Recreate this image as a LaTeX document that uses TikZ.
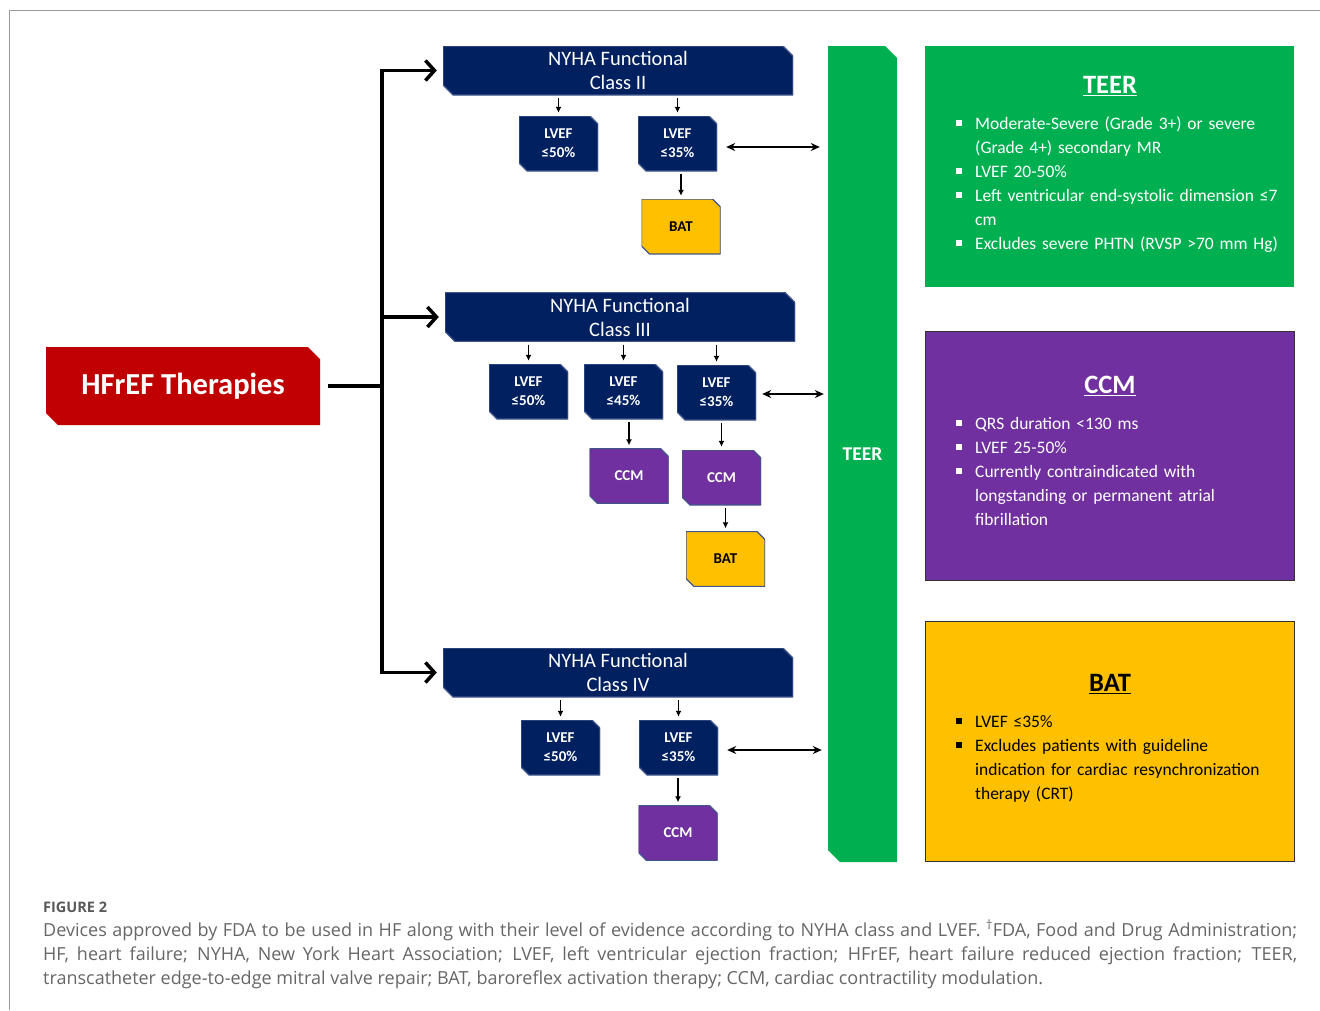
\documentclass[tikz,border=0pt]{standalone}
\usepackage{fontspec}
\setmainfont{Carlito}
\newfontfamily\capfont{Open Sans}
\usetikzlibrary{arrows, arrows.meta}
\definecolor{navy}{HTML}{002060}
\definecolor{hfred}{HTML}{C00000}
\definecolor{teergreen}{HTML}{00B050}
\definecolor{ccmpurple}{HTML}{7030A0}
\definecolor{batyellow}{HTML}{FFC000}
\definecolor{edgeblue}{HTML}{41578C}
\definecolor{capgray}{HTML}{666666}
\definecolor{labelgray}{HTML}{595959}
\definecolor{framegray}{HTML}{9A9A9A}
\newcommand\bitem[1]{\hangindent=19pt\hangafter=1\noindent\makebox[19pt][l]{\rule[3.5pt]{6pt}{6pt}}#1\par}

\begin{document}
\begin{tikzpicture}[x=1pt, y=1pt]
\tikzstyle{every node}+=[inner sep=0pt]
\tikzset{snipsize/.store in=\snipcut, snipsize=8pt}
\tikzstyle{snip}=[rectangle, fill=white, path picture={\path[#1] ([xshift=\snipcut]path picture bounding box.south west) -- (path picture bounding box.south east) -- ([yshift=-\snipcut]path picture bounding box.north east) -- ([xshift=-\snipcut]path picture bounding box.north east) -- (path picture bounding box.north west) -- ([yshift=\snipcut]path picture bounding box.south west) -- cycle;}]
\tikzstyle{classbox}=[snip={fill=navy, draw=edgeblue, line width=1.2pt}, snipsize=10pt, minimum width=350pt, minimum height=49pt, text=white, align=center, font=\fontsize{20.5}{24}\selectfont]
\tikzstyle{lvefbox}=[snip={fill=navy, draw=edgeblue, line width=1.2pt}, minimum width=79pt, minimum height=55pt, text=white, align=center, font=\bfseries\fontsize{15}{19}\selectfont]
\tikzstyle{ccmbox}=[lvefbox, snip={fill=ccmpurple, draw=edgeblue, line width=1.2pt}]
\tikzstyle{batbox}=[lvefbox, snip={fill=batyellow, draw=edgeblue, line width=1.2pt}, text=black]
\tikzstyle{infobox}=[rectangle, minimum width=369pt, line width=0.8pt]
\tikzstyle{infotitle}=[font=\bfseries\fontsize{26.5}{30}\selectfont]
\tikzstyle{infolist}=[anchor=base west, text width=335pt, align=left, font=\fontsize{17.5}{24}\selectfont]
\tikzstyle{down}=[-{Latex[length=6pt,width=6pt]}, line width=1.6pt, shorten <=3pt, shorten >=3pt]
\tikzstyle{both}=[{Stealth[length=9pt,width=8pt]}-{Stealth[length=9pt,width=8pt]}, line width=1.6pt]
\tikzstyle{trunkline}=[line width=3.5pt, {Straight Barb[length=9pt,width=20pt]}-{Straight Barb[length=9pt,width=20pt]}, shorten <=6pt, shorten >=6pt]
\useasboundingbox (0,0) rectangle (1320,-1010);
\draw [framegray, line width=1pt] (9.5,-1010) -- (9.5,-10.5) -- (1320,-10.5);
\node [snip={fill=hfred}, snipsize=12pt, minimum width=274pt, minimum height=78pt, text=white, font=\bfseries\fontsize{30.5}{32}\selectfont] (hfref) at (183,-386) {HFrEF Therapies};
\node [classbox] (nyha2) at (618,-70.5) {NYHA Functional\\Class II};
\node [classbox] (nyha3) at (620,-317) {NYHA Functional\\Class III};
\node [classbox] (nyha4) at (618,-672.5) {NYHA Functional\\Class IV};
\node [lvefbox] (lvef2a) at (558.5,-143.5) {LVEF\\≤50\%};
\node [lvefbox] (lvef2b) at (677.5,-143.5) {LVEF\\≤35\%};
\node [batbox] (bat2) at (681,-226.5) {BAT};
\node [lvefbox] (lvef3a) at (528.5,-391.5) {LVEF\\≤50\%};
\node [lvefbox] (lvef3b) at (623.5,-391.5) {LVEF\\≤45\%};
\node [lvefbox] (lvef3c) at (716.5,-392.5) {LVEF\\≤35\%};
\node [ccmbox] (ccm3b) at (629,-476) {CCM};
\node [ccmbox] (ccm3c) at (721.5,-477.5) {CCM};
\node [batbox] (bat3) at (725.5,-559) {BAT};
\node [lvefbox] (lvef4a) at (560.5,-747.5) {LVEF\\≤50\%};
\node [lvefbox] (lvef4b) at (678.5,-747.5) {LVEF\\≤35\%};
\node [ccmbox] (ccm4) at (678,-833) {CCM};
\node [snip={fill=teergreen}, snipsize=12pt, minimum width=69pt, minimum height=816pt, text=white, font=\bfseries\fontsize{19.5}{22}\selectfont] (teerbar) at (862.5,-454) {TEER};
\coordinate (trunk) at (382,-386);
\draw [line width=3.5pt, shorten <=8pt] (hfref.east) -- (trunk);
\draw [trunkline] (nyha2.west) -- (trunk |- nyha2.west) -- (trunk |- nyha4.west) -- (nyha4.west);
\draw [line width=3.5pt, -{Straight Barb[length=9pt,width=20pt]}, shorten >=6pt] (trunk |- nyha3.west) -- (nyha3.west);
\draw [down] (nyha2.south -| lvef2a) -- (lvef2a);
\draw [down] (nyha2.south -| lvef2b) -- (lvef2b);
\draw [down] (lvef2b.south -| bat2) -- (bat2);
\draw [down] (nyha3.south -| lvef3a) -- (lvef3a);
\draw [down] (nyha3.south -| lvef3b) -- (lvef3b);
\draw [down] (nyha3.south -| lvef3c) -- (lvef3c);
\draw [down] (lvef3b.south -| ccm3b) -- (ccm3b);
\draw [down] (lvef3c.south -| ccm3c) -- (ccm3c);
\draw [down] (ccm3c.south -| bat3) -- (bat3);
\draw [down] (nyha4.south -| lvef4a) -- (lvef4a);
\draw [down] (nyha4.south -| lvef4b) -- (lvef4b);
\draw [down] (lvef4b.south -| ccm4) -- (ccm4);
\draw [both, shorten <=9pt, shorten >=8pt] ([yshift=-3.5pt]lvef2b.east) -- ([yshift=-3.5pt]lvef2b.east -| teerbar.west);
\draw [both, shorten <=6pt, shorten >=4pt] ([yshift=-1.5pt]lvef3c.east) -- ([yshift=-1.5pt]lvef3c.east -| teerbar.west);
\draw [both, shorten <=9pt, shorten >=6pt] ([yshift=-2.5pt]lvef4b.east) -- ([yshift=-2.5pt]lvef4b.east -| teerbar.west);
\node [infobox, fill=teergreen, minimum height=241pt] (teerinfo) at (1109.5,-166.5) {};
\node [infobox, fill=ccmpurple, draw=black!80, minimum height=249pt] (ccminfo) at (1109.5,-455.5) {};
\node [infobox, fill=batyellow, draw=black!80, minimum height=240pt] (batinfo) at (1109.5,-741) {};
\node [infotitle, text=white] (teertitle) at (1110,-86) {\underline{TEER}};
\node [infolist, text=white] (teerlist) at (956,-129.5) {\bitem{Moderate-Severe (Grade 3+) or severe\newline(Grade 4+) secondary MR}\bitem{LVEF 20-50\%}\bitem{Left ventricular end-systolic dimension ≤7\newline cm}\bitem{Excludes severe PHTN (RVSP >70 mm Hg)}};
\node [infotitle, text=white] (ccmtitle) at (1110,-386) {\underline{CCM}};
\node [infolist, text=white] (ccmlist) at (956,-429.5) {\bitem{QRS duration <130 ms}\bitem{LVEF 25-50\%}\bitem{Currently contraindicated with\newline longstanding or permanent atrial\newline fibrillation}};
\node [infotitle, text=black] (battitle) at (1110,-684) {\underline{BAT}};
\node [infolist, text=black] (batlist) at (956,-727.5) {\bitem{LVEF ≤35\%}\bitem{Excludes patients with guideline\newline indication for cardiac resynchronization\newline therapy (CRT)}};
\node [anchor=base west, text=labelgray, font=\capfont\bfseries\fontsize{14.5}{16}\selectfont] (figlabel) at (43,-912) {FIGURE 2};
\node [anchor=base west, text=capgray, text width=1254pt, align=justify, font=\capfont\fontsize{18}{24}\selectfont] (caption) at (43,-936) {Devices approved by FDA to be used in HF along with their level of evidence according to NYHA class and LVEF. \textsuperscript{†}FDA, Food and Drug Administration;\linebreak HF, heart failure; NYHA, New York Heart Association; LVEF, left ventricular ejection fraction; HFrEF, heart failure reduced ejection fraction; TEER,\linebreak transcatheter edge-to-edge mitral valve repair; BAT, baroreflex activation therapy; CCM, cardiac contractility modulation.};
\end{tikzpicture}
\end{document}
